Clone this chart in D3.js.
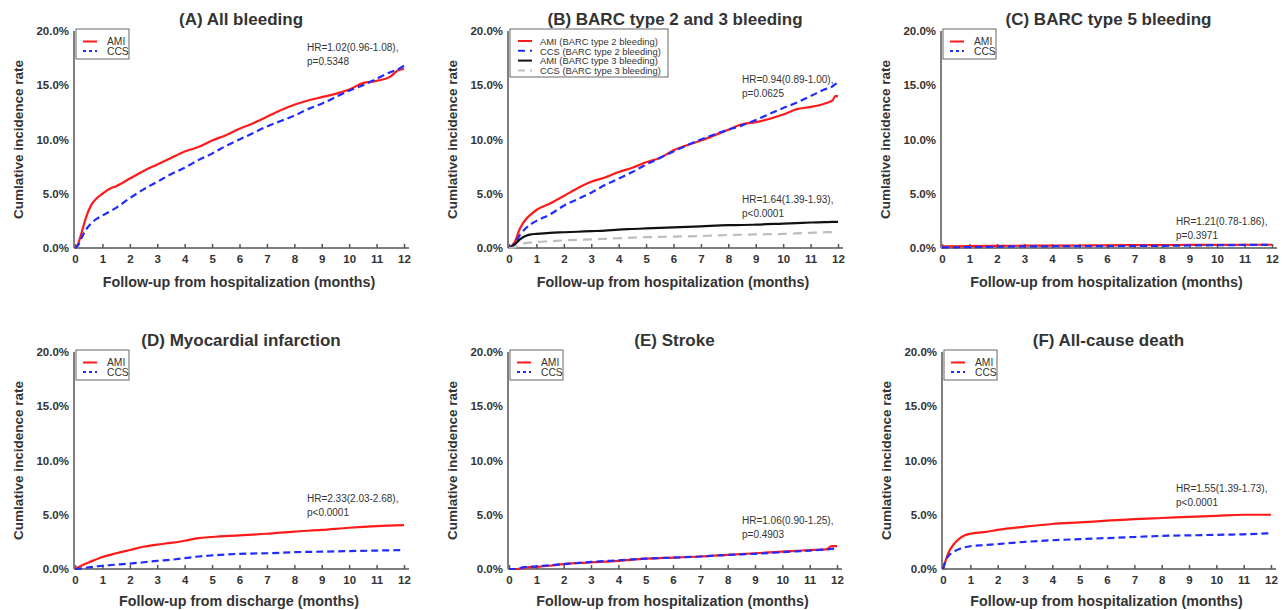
<!DOCTYPE html>
<html>
<head>
<meta charset="utf-8">
<script src="https://cdn.jsdelivr.net/npm/d3@7"></script>
<style>
  body { margin: 0; background: #fff; }
  svg text { font-family: "Liberation Sans", Arial, sans-serif; fill: #333; }
</style>
</head>
<body>
<svg id="chart" width="1288" height="610"></svg>
<script>
// x ticks (months) and y ticks (%)
const monthTicks = [0, 1, 2, 3, 4, 5, 6, 7, 8, 9, 10, 11, 12];
const pctTicks = [0, 5, 10, 15, 20];

// (A) All bleeding
const aTime = [0, 0.1, 0.25, 0.4, 0.6, 0.8, 1, 1.3, 1.5, 2, 2.5, 3, 3.5, 4, 4.5, 5, 5.5, 6, 6.5, 7, 7.5, 8, 8.5, 9, 9.5, 10, 10.5, 11, 11.5, 11.8, 12];
const aAMI = [0, 0.3, 1.5, 2.8, 4.0, 4.6, 5.0, 5.5, 5.7, 6.4, 7.1, 7.7, 8.3, 8.9, 9.3, 9.9, 10.4, 11.0, 11.5, 12.1, 12.7, 13.2, 13.6, 13.9, 14.2, 14.6, 15.2, 15.4, 15.8, 16.4, 16.5];
const aCCS = [0, 0.2, 1.0, 1.7, 2.3, 2.7, 3.0, 3.4, 3.7, 4.6, 5.4, 6.1, 6.8, 7.4, 8.1, 8.7, 9.4, 10.0, 10.6, 11.2, 11.7, 12.2, 12.8, 13.3, 13.9, 14.5, 15.0, 15.6, 16.2, 16.5, 16.8];

// (B) BARC type 2 and 3 bleeding
const bTime = [0, 0.2, 0.4, 0.6, 0.8, 1, 1.5, 2, 2.5, 3, 3.5, 4, 4.5, 5, 5.5, 6, 7, 8, 8.5, 9, 10, 10.5, 11, 11.5, 11.8, 11.9, 12];
const bAMI2 = [0, 0.5, 1.8, 2.6, 3.1, 3.5, 4.1, 4.8, 5.5, 6.1, 6.5, 7.0, 7.4, 7.9, 8.3, 9.0, 9.9, 10.9, 11.4, 11.6, 12.3, 12.8, 13.0, 13.3, 13.6, 14.0, 14.0];
const bCCS2 = [0, 0.4, 1.2, 1.8, 2.2, 2.5, 3.1, 3.9, 4.5, 5.1, 5.8, 6.4, 7.0, 7.7, 8.3, 8.9, 10.0, 10.9, 11.3, 11.8, 12.9, 13.4, 14.0, 14.6, 14.9, 15.1, 15.2];
const bAMI3 = [0, 0.3, 0.8, 1.1, 1.25, 1.3, 1.4, 1.45, 1.5, 1.55, 1.6, 1.7, 1.75, 1.8, 1.85, 1.9, 2.0, 2.1, 2.12, 2.15, 2.25, 2.3, 2.35, 2.38, 2.4, 2.4, 2.4];
const bCCS3 = [0, 0.05, 0.3, 0.45, 0.5, 0.55, 0.62, 0.7, 0.75, 0.8, 0.85, 0.9, 0.95, 1.0, 1.02, 1.05, 1.1, 1.2, 1.22, 1.25, 1.3, 1.35, 1.4, 1.45, 1.47, 1.5, 1.5];

// (C) BARC type 5 bleeding
const cTime = [0, 1, 2, 3, 4, 5, 6, 7, 8, 9, 10, 11, 12];
const cAMI = [0.15, 0.17, 0.2, 0.21, 0.22, 0.23, 0.25, 0.26, 0.27, 0.28, 0.29, 0.3, 0.3];
const cCCS = [0.05, 0.08, 0.12, 0.15, 0.16, 0.17, 0.18, 0.19, 0.2, 0.23, 0.26, 0.28, 0.3];

// (D) Myocardial infarction
const dTime = [0, 0.3, 0.5, 1, 1.5, 2, 2.5, 3, 3.5, 4, 4.5, 5, 6, 7, 8, 9, 10, 11, 12];
const dAMI = [0, 0.4, 0.6, 1.1, 1.45, 1.75, 2.05, 2.25, 2.4, 2.6, 2.85, 2.95, 3.1, 3.25, 3.45, 3.6, 3.8, 3.95, 4.05];
const dCCS = [0, 0.08, 0.15, 0.3, 0.4, 0.5, 0.62, 0.75, 0.85, 1.0, 1.15, 1.25, 1.4, 1.45, 1.55, 1.6, 1.65, 1.7, 1.75];

// (E) Stroke
const eTime = [0, 0.3, 0.5, 1, 1.5, 2, 3, 4, 5, 6, 7, 8, 9, 10, 11, 11.6, 11.8, 12];
const eAMI = [0, 0, 0.1, 0.2, 0.3, 0.45, 0.6, 0.75, 0.95, 1.05, 1.15, 1.3, 1.45, 1.6, 1.75, 1.8, 2.1, 2.1];
const eCCS = [0, 0, 0.15, 0.25, 0.35, 0.45, 0.65, 0.8, 0.95, 1.05, 1.15, 1.3, 1.4, 1.55, 1.7, 1.8, 1.85, 1.9];

// (F) All-cause death
const fTime = [0, 0.1, 0.2, 0.4, 0.6, 0.8, 1, 1.5, 2, 3, 4, 5, 6, 7, 8, 9, 10, 11, 12];
const fAMI = [0, 0.8, 1.5, 2.3, 2.8, 3.1, 3.25, 3.4, 3.6, 3.9, 4.15, 4.3, 4.45, 4.6, 4.7, 4.8, 4.9, 5.0, 5.0];
const fCCS = [0, 0.8, 1.2, 1.6, 1.85, 2.0, 2.1, 2.2, 2.3, 2.5, 2.65, 2.75, 2.85, 2.95, 3.05, 3.1, 3.15, 3.2, 3.3];

const titles = ['(A) All bleeding', '(B) BARC type 2 and 3 bleeding', '(C) BARC type 5 bleeding',
                '(D) Myocardial infarction', '(E) Stroke', '(F) All-cause death'];
const xLabels = ['Follow-up from hospitalization (months)', 'Follow-up from hospitalization (months)',
                 'Follow-up from hospitalization (months)', 'Follow-up from discharge (months)',
                 'Follow-up from hospitalization (months)', 'Follow-up from hospitalization (months)'];
const hrTexts = [
  [['HR=1.02(0.96-1.08),', 'p=0.5348']],
  [['HR=0.94(0.89-1.00),', 'p=0.0625'], ['HR=1.64(1.39-1.93),', 'p<0.0001']],
  [['HR=1.21(0.78-1.86),', 'p=0.3971']],
  [['HR=2.33(2.03-2.68),', 'p<0.0001']],
  [['HR=1.06(0.90-1.25),', 'p=0.4903']],
  [['HR=1.55(1.39-1.73),', 'p<0.0001']]
];

// line styles
const sAMI = { color: '#ff1a1a', dash: null };
const sCCS = { color: '#1f2bff', dash: '7,4' };
const sBlack = { color: '#111', dash: null };
const sGrey = { color: '#bdbdbd', dash: '9,6' };

const panels = [
  { time: aTime, series: [{ name: 'AMI', v: aAMI, s: sAMI }, { name: 'CCS', v: aCCS, s: sCCS }] },
  { time: bTime, series: [
      { name: 'AMI (BARC type 2 bleeding)', v: bAMI2, s: sAMI },
      { name: 'CCS (BARC type 2 bleeding)', v: bCCS2, s: sCCS },
      { name: 'AMI (BARC type 3 bleeding)', v: bAMI3, s: sBlack },
      { name: 'CCS (BARC type 3 bleeding)', v: bCCS3, s: sGrey }] },
  { time: cTime, series: [{ name: 'AMI', v: cAMI, s: sAMI }, { name: 'CCS', v: cCCS, s: sCCS }] },
  { time: dTime, series: [{ name: 'AMI', v: dAMI, s: sAMI }, { name: 'CCS', v: dCCS, s: sCCS }] },
  { time: eTime, series: [{ name: 'AMI', v: eAMI, s: sAMI }, { name: 'CCS', v: eCCS, s: sCCS }] },
  { time: fTime, series: [{ name: 'AMI', v: fAMI, s: sAMI }, { name: 'CCS', v: fCCS, s: sCCS }] }
];

// plot boxes and annotation positions (pixels)
const boxes = [
  { x0: 74, x1: 404, y0: 31, y1: 248, xl: 39, hr: [[307, 47]] },
  { x0: 508, x1: 838, y0: 31, y1: 248, xl: 39, hr: [[742, 79], [742, 199]] },
  { x0: 941, x1: 1272, y0: 31, y1: 248, xl: 39, hr: [[1176, 221]] },
  { x0: 74, x1: 404, y0: 352, y1: 569, xl: 37, hr: [[307, 498]] },
  { x0: 508, x1: 837, y0: 352, y1: 569, xl: 37, hr: [[742, 520]] },
  { x0: 942, x1: 1271, y0: 352, y1: 569, xl: 37, hr: [[1176, 488]] }
];

const svg = d3.select('#chart');
const axisColor = '#7f7f7f';

panels.forEach((p, i) => {
  const b = boxes[i];
  const g = svg.append('g');
  const x = d3.scaleLinear().domain([0, 12]).range([b.x0 + 1, b.x1]);
  const y = d3.scaleLinear().domain([0, 20]).range([b.y1, b.y0]);

  // axes
  const xAxis = g.append('g').attr('transform', `translate(0,${b.y1})`)
    .call(d3.axisBottom(x).tickValues(monthTicks).tickSize(-4).tickPadding(7).tickFormat(d3.format('d')));
  const yAxis = g.append('g').attr('transform', `translate(${b.x0},0)`)
    .call(d3.axisLeft(y).tickValues(pctTicks).tickSize(0).tickPadding(5).tickFormat(d => d.toFixed(1) + '%'));
  [xAxis, yAxis].forEach(ax => {
    ax.select('.domain').attr('stroke', axisColor).attr('stroke-width', 2);
    ax.selectAll('.tick line').attr('stroke', '#555').attr('stroke-width', 1.5);
    ax.selectAll('.tick text').attr('font-size', 11.5).attr('font-weight', 'bold')
      .style('fill', '#333').attr('font-family', '"Liberation Sans", Arial, sans-serif');
  });
  xAxis.select('.domain').attr('d', `M${b.x0},0H${b.x1 + 5}`);
  yAxis.select('.domain').attr('d', `M0,${b.y1}V${b.y0}`);

  // curves
  const line = d3.line().curve(d3.curveMonotoneX);
  p.series.forEach(s => {
    g.append('path')
      .attr('d', line(p.time.map((t, k) => [x(t), y(s.v[k])])))
      .attr('fill', 'none')
      .attr('stroke', s.s.color)
      .attr('stroke-width', 2.2)
      .attr('stroke-dasharray', s.s.dash);
  });

  // titles
  const cx = (b.x0 + b.x1) / 2;
  g.append('text').attr('x', cx + 2).attr('y', b.y0 - 6).attr('text-anchor', 'middle')
    .attr('font-size', 17).attr('font-weight', 'bold').text(titles[i]);
  g.append('text').attr('x', cx).attr('y', b.y1 + b.xl).attr('text-anchor', 'middle')
    .attr('font-size', 14.3).attr('font-weight', 'bold').text(xLabels[i]);
  g.append('text')
    .attr('transform', `translate(${b.x0 - 51},${(b.y0 + b.y1) / 2}) rotate(-90)`)
    .attr('text-anchor', 'middle').attr('font-size', 13.5).attr('font-weight', 'bold')
    .text('Cumlative incidence rate');

  // HR annotations
  hrTexts[i].forEach((lines, k) => {
    const [hx, hy] = b.hr[k];
    lines.forEach((t, j) => {
      g.append('text').attr('x', hx).attr('y', hy + 4 + j * 14)
        .attr('font-size', 10).text(t);
    });
  });

  // legend
  const wide = p.series.length > 2;
  const rowH = wide ? 9.8 : 9.5;
  const lg = g.append('g').attr('transform', `translate(${b.x0 + 2},${b.y0 - 2})`);
  const lw = wide ? 158 : 53;
  const lh = wide ? 48 : 30;
  lg.append('rect').attr('width', lw).attr('height', lh)
    .attr('fill', '#fff').attr('stroke', '#666').attr('stroke-width', 1);
  const top = wide ? 12 : 12.5;
  p.series.forEach((s, k) => {
    const ly = top + k * rowH;
    lg.append('line').attr('x1', wide ? 8 : 7).attr('x2', wide ? 22 : 21)
      .attr('y1', ly).attr('y2', ly)
      .attr('stroke', s.s.color).attr('stroke-width', 2)
      .attr('stroke-dasharray', s.s.dash ? (wide ? '7,5' : '3,3') : null);
    lg.append('text').attr('x', wide ? 30 : 31).attr('y', ly + 3.8)
      .attr('font-size', wide ? 9.4 : 10.3).text(s.name);
  });
});
</script>
</body>
</html>
